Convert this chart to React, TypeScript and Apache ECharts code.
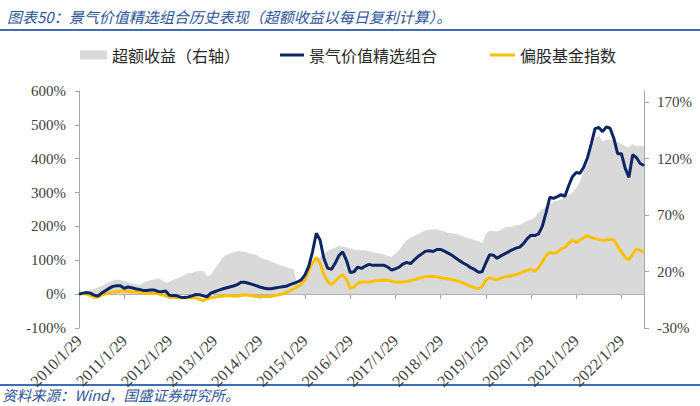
import React, { useEffect, useRef } from "react";
import * as echarts from "echarts";

const titleText = "图表50：景气价值精选组合历史表现（超额收益以每日复利计算）。";
const sourceText = "资料来源：Wind，国盛证券研究所。";
const seriesNames = ["超额收益（右轴）", "景气价值精选组合", "偏股基金指数"];

const years = [2010, 2011, 2012, 2013, 2014, 2015, 2016, 2017, 2018, 2019, 2020, 2021, 2022];
const lastMonth2022 = 7;
const categories: string[] = [];
for (const y of years) {
  for (let m = 1; m <= 12; m++) {
    if (y === 2022 && m > lastMonth2022) break;
    categories.push(`${y}/${m}/${m === 2 ? 28 : 29}`);
  }
}

// 景气价值精选组合 (left axis, %)
const portfolioValues = [
  0, 3, 5, 3, -3, -6, 3, 10, 17, 23, 25, 25,
  17, 21, 19, 16, 14, 11, 11, 12, 12, 8, 7, 9,
  -3, -4, -5, -9, -10, -8, -5, -1, -2, -5, -8, 3,
  7, 11, 15, 18, 21, 24, 28, 35, 35, 32, 29, 25,
  21, 18, 16, 16, 18, 20, 22, 23, 28, 32, 36, 42,
  57, 83, 125, 180, 160, 106, 77, 73, 91, 114, 125, 100,
  64, 66, 80, 76, 83, 88, 85, 85, 85, 85, 80, 71,
  75, 80, 89, 94, 90, 101, 111, 119, 127, 128, 126, 132,
  132, 127, 121, 115, 107, 99, 92, 86, 78, 73, 65, 66,
  92, 116, 115, 106, 113, 119, 125, 131, 136, 139, 149, 164,
  174, 173, 178, 200, 241, 286, 283, 288, 294, 289, 320, 347,
  359, 357, 375, 403, 444, 489, 492, 480, 494, 490, 460, 415,
  415, 372, 345, 412, 403, 386, 380,
];

// 偏股基金指数 (left axis, %)
const fundIndexValues = [
  0, 2, 0, -4, -9, -9, -3, 0, 3, 6, 7, 9,
  9, 8, 7, 6, 5, 4, 3, 3, 2, 1, -2, -5,
  -9, -10, -10, -11, -11, -11, -11, -11, -15, -19, -14, -10,
  -9, -7, -6, -5, -4, -6, -6, -4, -2, -3, -5, -7,
  -7, -7, -7, -6, -4, -2, 0, 5, 10, 16, 22, 30,
  42, 68, 92, 108, 92, 58, 38, 28, 38, 50, 57, 44,
  17, 21, 32, 36, 36, 36, 38, 40, 41, 42, 41, 38,
  36, 36, 36, 37, 40, 43, 46, 50, 51, 52, 52, 51,
  49, 47, 45, 43, 41, 37, 33, 28, 23, 19, 16, 22,
  42, 49, 44, 42, 48, 51, 53, 55, 58, 61, 67, 70,
  74, 67, 78, 95, 114, 124, 120, 124, 134, 138, 150, 160,
  152, 160, 167, 173, 168, 164, 161, 159, 160, 162, 160, 142,
  125, 108, 102, 118, 133, 130, 122,
];

// 超额收益 (right axis, %)
const excessValues = [
  0, 1, 2.5, 3.5, 4.5, 6, 7, 9, 10.5, 12, 13, 12.5,
  11.5, 10.5, 9.5, 9, 8, 10, 11.5, 12.5, 13, 14, 12.5, 10,
  11, 12.5, 14, 15.5, 17, 18.5, 19, 20, 20.5, 20.5, 16, 17,
  22, 27, 32, 34.5, 36, 37, 38, 38, 37.5, 36.5, 35.5, 35,
  33, 31, 30.5, 29, 27.5, 26, 25, 24, 23, 22, 8, 9,
  12, 17, 24, 30, 33, 36, 38, 40, 41, 43, 42, 41.5,
  40.5, 39.5, 39, 39, 39, 38, 37, 36.5, 36, 35, 34, 33,
  36, 39, 44, 48, 50, 51.5, 53, 55, 56.5, 57, 57.5, 57.5,
  56.5, 55.5, 54.5, 54, 53.5, 52.5, 51, 50, 49, 48, 47, 45,
  53, 56.5, 56, 55.5, 57, 59, 59.5, 60, 61, 61.5, 63, 65,
  66, 68, 72.5, 75, 77.5, 80, 82, 83, 84, 86, 88, 90,
  94, 100, 109, 115, 128, 138, 141, 135, 137, 137, 136, 135,
  133, 131, 130, 133, 131, 131, 131,
];

const leftTicks = { min: -100, max: 600, interval: 100 };
const rightTickValues = [-30, 20, 70, 120, 170];
const rightRange = { min: -30, max: 180 };

const COLORS = { excess: "#D9D9D9", portfolio: "#0C2565", fund: "#FFC000", blue: "#3F6DB5", axis: "#A6A6A6", text: "#404040" };

export default function App() {
  const ref = useRef<HTMLDivElement>(null);
  useEffect(() => {
    if (!ref.current) return;
    const chart = echarts.init(ref.current, null, { renderer: "svg" });
    const legendText = { fontSize: 16, color: "#262626", fontFamily: "Noto Sans CJK SC" };
    chart.setOption({
      animation: false,
      backgroundColor: "#ffffff",
      title: {
        text: titleText,
        left: 2,
        top: 4,
        textStyle: { fontSize: 15, fontStyle: "italic", fontWeight: "normal", color: "#2F5597", fontFamily: "Noto Sans CJK SC" },
      },
      graphic: [
        { type: "line", shape: { x1: 0, y1: 30, x2: 700, y2: 30 }, style: { stroke: COLORS.blue, lineWidth: 2 } },
        { type: "line", shape: { x1: 0, y1: 385, x2: 700, y2: 385 }, style: { stroke: COLORS.blue, lineWidth: 2 } },
        {
          type: "text",
          left: 2,
          top: 387,
          style: { text: sourceText, fontSize: 14.5, fontStyle: "italic", fill: "#2F5597", fontFamily: "Noto Sans CJK SC" },
        },
      ],
      legend: [
        { data: [{ name: seriesNames[0], icon: "rect" }], left: 80, top: 47, padding: 0, itemWidth: 27, itemHeight: 9, textStyle: legendText },
        { data: [{ name: seriesNames[1], icon: "rect" }], left: 280, top: 47, padding: 0, itemWidth: 24, itemHeight: 3, textStyle: legendText },
        { data: [{ name: seriesNames[2], icon: "rect" }], left: 490, top: 47, padding: 0, itemWidth: 25, itemHeight: 3, textStyle: legendText },
      ],
      grid: { left: 79, right: 56, top: 91, bottom: 78 },
      xAxis: {
        type: "category",
        data: categories,
        boundaryGap: false,
        axisLine: { onZero: true, lineStyle: { color: COLORS.axis, width: 1 } },
        axisTick: { interval: 11, length: 5, lineStyle: { color: COLORS.axis } },
        axisLabel: { interval: 11, rotate: 45, margin: 10, fontSize: 16, color: COLORS.text, fontFamily: "Liberation Serif" },
        splitLine: { show: false },
      },
      yAxis: [
        {
          type: "value",
          min: leftTicks.min,
          max: leftTicks.max,
          interval: leftTicks.interval,
          axisLine: { show: true, lineStyle: { color: COLORS.axis } },
          axisTick: { show: true, length: 4, lineStyle: { color: COLORS.axis } },
          axisLabel: { formatter: "{value}%", fontSize: 15, color: COLORS.text, fontFamily: "Liberation Serif", margin: 13 },
          splitLine: { show: false },
        },
        {
          type: "value",
          position: "right",
          min: rightRange.min,
          max: rightRange.max,
          interval: 50,
          axisLine: { show: true, lineStyle: { color: COLORS.axis } },
          axisTick: { show: true, length: 5, customValues: rightTickValues, lineStyle: { color: COLORS.axis } },
          axisLabel: {
            customValues: rightTickValues,
            formatter: (v: number) => (rightTickValues.includes(v) ? `${v}%` : ""),
            fontSize: 15,
            color: COLORS.text,
            fontFamily: "Liberation Serif",
            margin: 13,
          },
          splitLine: { show: false },
        },
      ],
      series: [
        {
          name: seriesNames[0],
          type: "line",
          yAxisIndex: 1,
          data: excessValues,
          symbol: "none",
          color: COLORS.excess,
          itemStyle: { color: COLORS.excess },
          lineStyle: { width: 0, color: COLORS.excess },
          areaStyle: { color: COLORS.excess, opacity: 1 },
          z: 1,
        },
        {
          name: seriesNames[1],
          type: "line",
          yAxisIndex: 0,
          data: portfolioValues,
          symbol: "none",
          color: COLORS.portfolio,
          itemStyle: { color: COLORS.portfolio },
          lineStyle: { width: 3, color: COLORS.portfolio },
          z: 3,
        },
        {
          name: seriesNames[2],
          type: "line",
          yAxisIndex: 0,
          data: fundIndexValues,
          symbol: "none",
          color: COLORS.fund,
          itemStyle: { color: COLORS.fund },
          lineStyle: { width: 3, color: COLORS.fund },
          z: 2,
        },
      ],
    });
    return () => chart.dispose();
  }, []);
  return <div ref={ref} style={{ position: "fixed", left: 0, top: 0, width: 700, height: 406, background: "#fff" }} />;
}
